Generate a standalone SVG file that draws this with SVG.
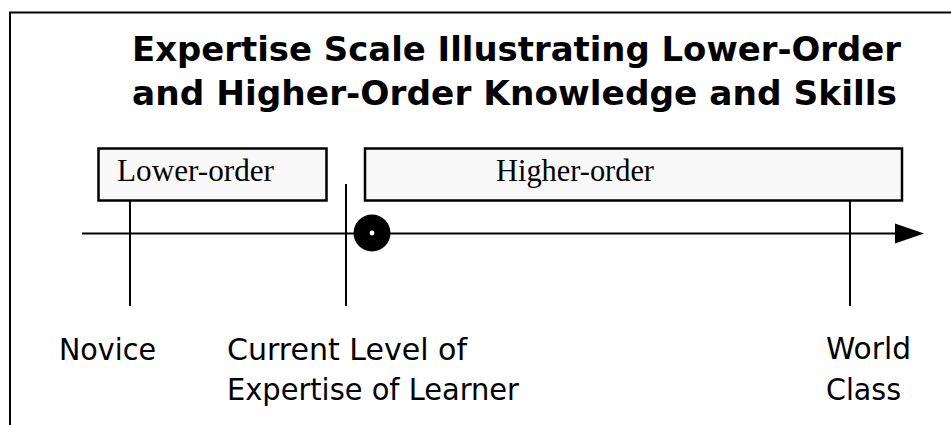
<svg xmlns="http://www.w3.org/2000/svg" width="951" height="425" viewBox="0 0 951 425">
<style>
.ln{stroke:#000;stroke-width:2;fill:none}
.box{fill:#f8f8f8;stroke:#000;stroke-width:2.5}
.title{font-family:"DejaVu Sans","Liberation Sans",sans-serif;font-weight:bold;font-size:33px;fill:#000}
.lbl{font-family:"Liberation Serif","Times New Roman",serif;font-size:31px;fill:#000}
.tick{font-family:"DejaVu Sans","Liberation Sans",sans-serif;font-size:30px;fill:#000}
</style>
<rect width="951" height="425" fill="#fff"/>
<path class="ln" d="M10,425 V12.5 H951"/>
<g id="title">
<text class="title" x="132" y="61" textLength="769" lengthAdjust="spacingAndGlyphs">Expertise Scale Illustrating Lower-Order</text>
<text class="title" x="132" y="105" textLength="765" lengthAdjust="spacingAndGlyphs">and Higher-Order Knowledge and Skills</text>
</g>
<g id="connectors">
<line class="ln" x1="82" y1="233.5" x2="897" y2="233.5"/>
<polygon points="895,223.5 924,233.5 895,243.5" fill="#000"/>
<line class="ln" x1="130" y1="200" x2="130" y2="306"/>
<line class="ln" x1="346" y1="184" x2="346" y2="306"/>
<line class="ln" x1="850" y1="200" x2="850" y2="306"/>
</g>
<g id="lower-order">
<rect class="box" x="98.5" y="148.5" width="228" height="52"/>
<text class="lbl" x="117" y="181" textLength="157" lengthAdjust="spacingAndGlyphs">Lower-order</text>
</g>
<g id="higher-order">
<rect class="box" x="365" y="148.5" width="537" height="52"/>
<text class="lbl" x="496" y="181" textLength="158" lengthAdjust="spacingAndGlyphs">Higher-order</text>
</g>
<g id="learner-marker">
<circle cx="372" cy="233" r="18.5" fill="#000"/>
<circle cx="372" cy="233" r="2.4" fill="#fff"/>
</g>
<g id="novice">
<text class="tick" x="59" y="360" textLength="97" lengthAdjust="spacingAndGlyphs">Novice</text>
</g>
<g id="current">
<text class="tick" x="227" y="360" textLength="240" lengthAdjust="spacingAndGlyphs">Current Level of</text>
<text class="tick" x="227" y="400" textLength="292" lengthAdjust="spacingAndGlyphs">Expertise of Learner</text>
</g>
<g id="world-class">
<text class="tick" x="826" y="359" textLength="85" lengthAdjust="spacingAndGlyphs">World</text>
<text class="tick" x="826" y="400" textLength="75" lengthAdjust="spacingAndGlyphs">Class</text>
</g>
</svg>
